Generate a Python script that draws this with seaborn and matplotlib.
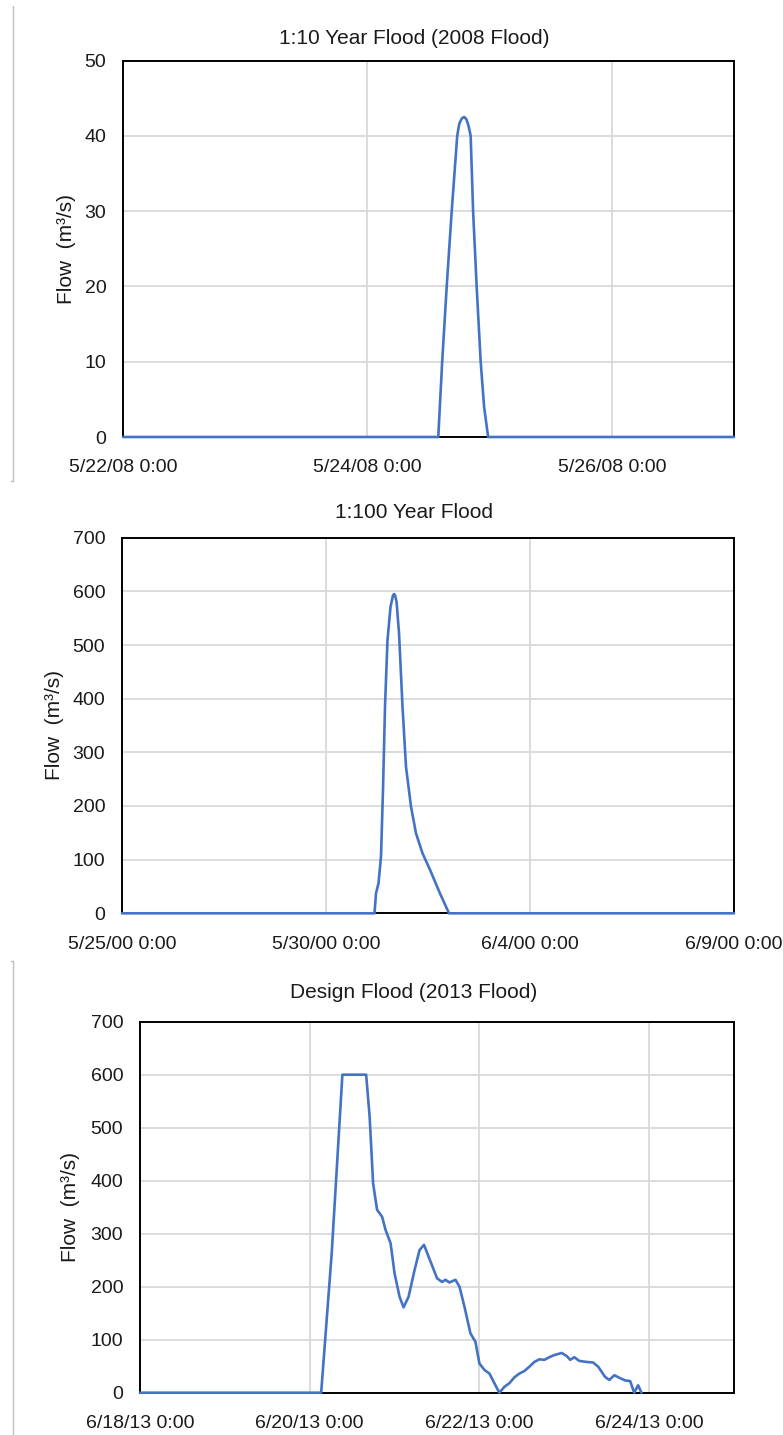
import pandas as pd
import matplotlib.pyplot as plt
import matplotlib.dates as mdates
from matplotlib.lines import Line2D
from matplotlib.ticker import FuncFormatter
import seaborn as sns

# 1:10 year flood (2008) - days after start, flow in m3/s
flood10_start = '2008-05-22'
flood10_days = [0, 2.58, 2.612, 2.649, 2.69, 2.735, 2.752, 2.772, 2.792, 2.81, 2.828,
                2.845, 2.865, 2.894, 2.927, 2.955, 2.988, 5.0]
flood10_flow = [0, 0, 10, 20, 30, 40, 41.6, 42.3, 42.5, 42.2, 41.3,
                40, 30, 20, 10, 4, 0, 0]
flood10_ticks = ['2008-05-22', '2008-05-24', '2008-05-26']

# 1:100 year flood
flood100_start = '2000-05-25'
flood100_days = [0, 6.189, 6.225, 6.287, 6.348, 6.397, 6.446, 6.507, 6.581, 6.64, 6.667,
                 6.695, 6.73, 6.79, 6.875, 6.961, 7.083, 7.206, 7.365, 7.55, 7.794, 8.015, 15.0]
flood100_flow = [0, 0, 37, 56, 106, 230, 385, 509, 571, 592, 595,
                 592, 580, 522, 385, 273, 199, 149, 112, 81, 37, 0, 0]
flood100_ticks = ['2000-05-25', '2000-05-30', '2000-06-04', '2000-06-09']

# design flood (2013)
design_start = '2013-06-18'
design_days = [0, 2.135, 2.26, 2.385, 2.665, 2.706, 2.747, 2.794, 2.853, 2.894,
               2.953, 3.0, 3.059, 3.106, 3.165, 3.235, 3.294, 3.347, 3.4, 3.447,
               3.5, 3.559, 3.6, 3.647, 3.718, 3.765, 3.824, 3.894, 3.953, 4.0,
               4.059, 4.118, 4.176, 4.235, 4.294, 4.353, 4.412, 4.47, 4.53, 4.588,
               4.647, 4.706, 4.765, 4.824, 4.882, 4.97, 5.03, 5.07, 5.118, 5.176,
               5.265, 5.34, 5.4, 5.48, 5.53, 5.59, 5.65, 5.72, 5.776, 5.824,
               5.87, 5.91]
design_flow = [0, 0, 265, 600, 600, 521, 395, 345, 332, 307,
               282, 225, 181, 161, 181, 231, 269, 279, 257, 238,
               216, 209, 213, 208, 213, 200, 162, 112, 96, 55,
               43, 36, 18, 0, 11, 18, 29, 36, 41, 49,
               58, 63, 62, 67, 71, 75, 69, 62, 67, 60,
               58, 57, 49, 30, 24, 33, 28, 23, 22, 0,
               14, 0]
design_ticks = ['2013-06-18', '2013-06-20', '2013-06-22', '2013-06-24']

BLUE = '#4472c4'
TXT = '#1a1a1a'

sns.set_theme(style='white')
plt.rcParams['font.family'] = ['Liberation Sans', 'DejaVu Sans']

fig = plt.figure(figsize=(7.83, 14.35), dpi=100)
W, H = 783, 1435


def date_label(x, pos):
    d = mdates.num2date(x)
    return f"{d.month}/{d.day}/{d:%y} {d.hour}:{d:%M}"


def rect(l, r, t, b):
    return [l / W, 1 - b / H, (r - l) / W, (b - t) / H]


def draw_panel(box, title, title_y, ylab_x, start, days, flow, ticks, ndays, ymax, ystep):
    ax = fig.add_axes(rect(*box))
    t0 = pd.Timestamp(start)
    times = t0 + pd.to_timedelta(days, unit='D')
    sns.lineplot(x=times, y=flow, ax=ax, color=BLUE, linewidth=1.9,
                 estimator=None, sort=False, zorder=3, clip_on=False)
    ax.set_xlim(t0, t0 + pd.Timedelta(days=ndays))
    ax.set_ylim(0, ymax)
    ax.set_yticks(range(0, ymax + 1, ystep))
    ax.set_xticks(pd.to_datetime(ticks))
    ax.xaxis.set_major_formatter(FuncFormatter(date_label))
    ax.grid(True, color='#d9d9d9', linewidth=1.3)
    ax.set_axisbelow(True)
    for s in ax.spines.values():
        s.set_color('black')
        s.set_linewidth(1.4)
    ax.tick_params(axis='both', length=0, labelsize=14, colors=TXT)
    ax.tick_params(axis='y', pad=12)
    ax.tick_params(axis='x', pad=16)
    for lab in ax.get_xticklabels():
        lab.set_clip_on(False)
    ax.set_xlabel('')
    ax.set_ylabel('')
    fig.text(ylab_x / W, 1 - (box[2] + box[3]) / 2 / H, 'Flow  (m³/s)', rotation=90,
             ha='center', va='center', fontsize=15, color=TXT)
    fig.text(414 / W, 1 - title_y / H, title, ha='center', va='center',
             fontsize=15, color=TXT)
    return ax


draw_panel((123, 734, 60.5, 437), '1:10 Year Flood (2008 Flood)', 38, 66,
           flood10_start, flood10_days, flood10_flow, flood10_ticks, 5, 50, 10)
draw_panel((122, 734, 537.7, 913.3), '1:100 Year Flood', 512, 54,
           flood100_start, flood100_days, flood100_flow, flood100_ticks, 15, 700, 100)
draw_panel((140, 734, 1021.7, 1392.7), 'Design Flood (2013 Flood)', 993, 70,
           design_start, design_days, design_flow, design_ticks, 7, 700, 100)

# thin grey borders from the pasted screenshots
grey = '#bfbfbf'
fig.add_artist(Line2D([13 / W, 13 / W], [1 - 6 / H, 1 - 481 / H], color=grey, lw=1))
fig.add_artist(Line2D([11 / W, 13 / W], [1 - 481 / H, 1 - 481 / H], color=grey, lw=1))
fig.add_artist(Line2D([12.5 / W, 12.5 / W], [1 - 961 / H, 0], color=grey, lw=1))
fig.add_artist(Line2D([11 / W, 12.5 / W], [1 - 961 / H, 1 - 961 / H], color=grey, lw=1))

fig.savefig('out.png', dpi=100)
